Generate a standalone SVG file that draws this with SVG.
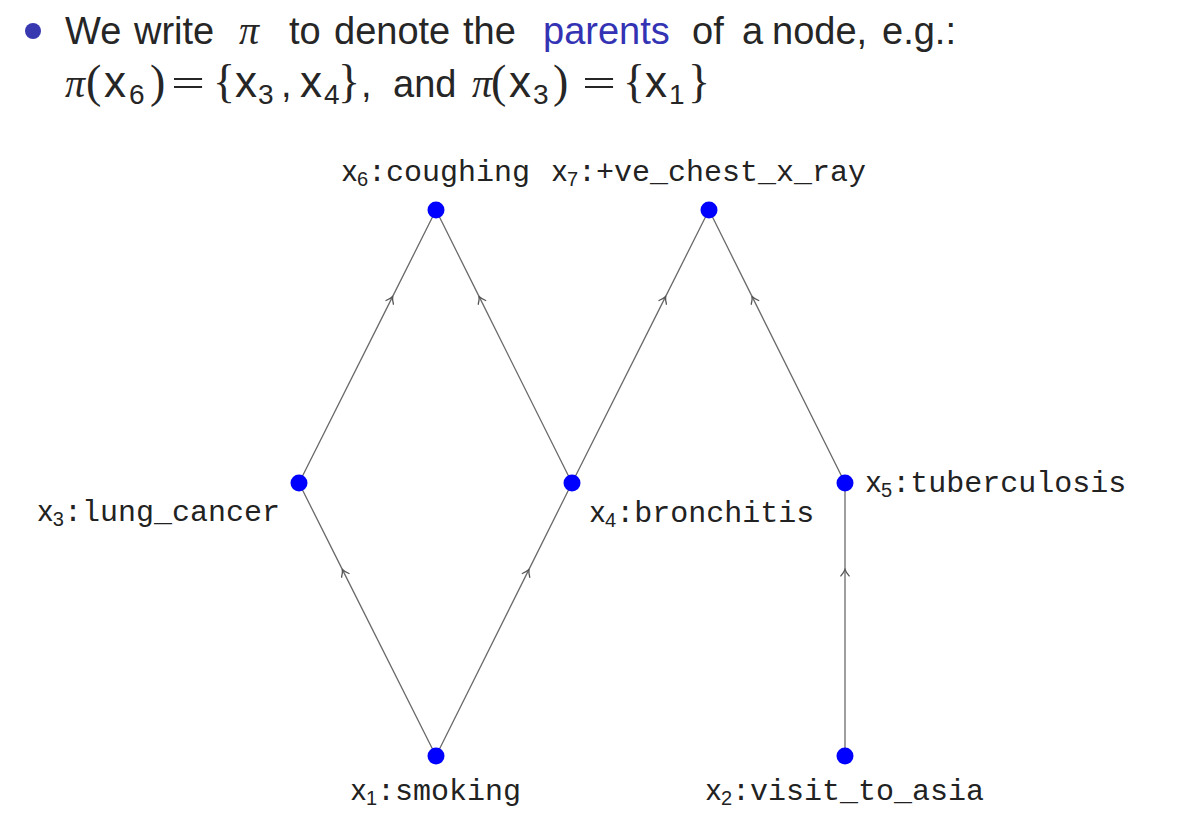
<svg xmlns="http://www.w3.org/2000/svg" width="1192" height="828" viewBox="0 0 1192 828">
<defs>
<style>
.t{font-family:"Liberation Sans",Arial,sans-serif;font-size:38px;fill:#262626}
.pi{font-family:"Liberation Serif","Times New Roman",serif;font-style:italic;font-size:40px}
.br{font-family:"Liberation Serif","Times New Roman",serif;font-size:46px}
.eq{font-family:"Liberation Serif","Times New Roman",serif;font-size:40px}
.mx{font-size:44px}
.sb{font-size:28px}
.hl{fill:#3333b3}
.lab{font-family:"Liberation Mono","Courier New",monospace;font-size:30px;fill:#222}
.lx{font-family:"Liberation Sans",Arial,sans-serif;font-size:30px}
.ls{font-family:"Liberation Sans",Arial,sans-serif;font-size:20px}
.edge{fill:none;stroke:#6a6a6a;stroke-width:1.3;marker-mid:url(#tip)}
.node{fill:#0000ff}
</style>
<marker id="tip" viewBox="-7 -5 9 10" refX="0" refY="0" markerWidth="9" markerHeight="10" markerUnits="userSpaceOnUse" orient="auto">
<path d="M -6 -4.5 Q -2 -1 1 0 Q -2 1 -6 4.5" fill="none" stroke="#555" stroke-width="1.3"/>
</marker>
</defs>
<rect width="1192" height="828" fill="#ffffff"/>
<g id="title">
<circle cx="33" cy="31" r="8" fill="#3838b0"/>
<text class="t" y="44"><tspan x="65">We</tspan><tspan x="134">write</tspan><tspan x="239" class="pi">π</tspan><tspan x="289">to</tspan><tspan x="334">denote</tspan><tspan x="463">the</tspan><tspan x="543" class="hl">parents</tspan><tspan x="692">of</tspan><tspan x="742">a</tspan><tspan x="772">node,</tspan><tspan x="882">e.g.:</tspan></text>
<text class="t" y="97"><tspan x="65" class="pi">π</tspan><tspan x="86" class="br">(</tspan><tspan x="104" class="mx">x</tspan><tspan x="129" y="104" class="sb">6</tspan><tspan x="150" y="97" class="br">)</tspan><tspan x="171" class="eq" textLength="34" lengthAdjust="spacingAndGlyphs">=</tspan><tspan x="213" class="br">{</tspan><tspan x="235" class="mx">x</tspan><tspan x="258" y="104" class="sb">3</tspan><tspan x="281" y="97">,</tspan><tspan x="300" class="mx">x</tspan><tspan x="324" y="104" class="sb">4</tspan><tspan x="338" y="97" class="br">}</tspan><tspan x="361">,</tspan><tspan x="393">and</tspan><tspan x="472" class="pi">π</tspan><tspan x="491" class="br">(</tspan><tspan x="509" class="mx">x</tspan><tspan x="533" y="104" class="sb">3</tspan><tspan x="553" y="97" class="br">)</tspan><tspan x="582" class="eq" textLength="34" lengthAdjust="spacingAndGlyphs">=</tspan><tspan x="623" class="br">{</tspan><tspan x="645" class="mx">x</tspan><tspan x="669" y="104" class="sb">1</tspan><tspan x="688" y="97" class="br">}</tspan></text>
</g>
<g id="edges">
<path class="edge" d="M 436 756 L 342.8 570.4 L 299 483"/>
<path class="edge" d="M 436 756 L 528.5 570.4 L 572 483"/>
<path class="edge" d="M 299 483 L 392.2 297.4 L 436 210"/>
<path class="edge" d="M 572 483 L 479.5 297.4 L 436 210"/>
<path class="edge" d="M 572 483 L 665.2 297.4 L 709 210"/>
<path class="edge" d="M 845 483 L 752.5 297.4 L 709 210"/>
<path class="edge" d="M 845 756 L 845 570.4 L 845 483"/>
</g>
<g id="x1">
<circle class="node" cx="436" cy="756" r="8.5"/>
<text class="lab" x="436" y="800" text-anchor="middle"><tspan class="lx">x</tspan><tspan class="ls" dy="5">1</tspan><tspan dy="-5">:smoking</tspan></text>
</g>
<g id="x2">
<circle class="node" cx="845" cy="756" r="8.5"/>
<text class="lab" x="845" y="800" text-anchor="middle"><tspan class="lx">x</tspan><tspan class="ls" dy="5">2</tspan><tspan dy="-5">:visit_to_asia</tspan></text>
</g>
<g id="x3">
<circle class="node" cx="299" cy="483" r="8.5"/>
<text class="lab" x="280" y="521" text-anchor="end"><tspan class="lx">x</tspan><tspan class="ls" dy="5">3</tspan><tspan dy="-5">:lung_cancer</tspan></text>
</g>
<g id="x4">
<circle class="node" cx="572" cy="483" r="8.5"/>
<text class="lab" x="590" y="522"><tspan class="lx">x</tspan><tspan class="ls" dy="5">4</tspan><tspan dy="-5">:bronchitis</tspan></text>
</g>
<g id="x5">
<circle class="node" cx="845" cy="483" r="8.5"/>
<text class="lab" x="866" y="492"><tspan class="lx">x</tspan><tspan class="ls" dy="5">5</tspan><tspan dy="-5">:tuberculosis</tspan></text>
</g>
<g id="x6">
<circle class="node" cx="436" cy="210" r="8.5"/>
<text class="lab" x="436" y="181" text-anchor="middle"><tspan class="lx">x</tspan><tspan class="ls" dy="5">6</tspan><tspan dy="-5">:coughing</tspan></text>
</g>
<g id="x7">
<circle class="node" cx="709" cy="210" r="8.5"/>
<text class="lab" x="709" y="181" text-anchor="middle"><tspan class="lx">x</tspan><tspan class="ls" dy="5">7</tspan><tspan dy="-5">:+ve_chest_x_ray</tspan></text>
</g>
</svg>
